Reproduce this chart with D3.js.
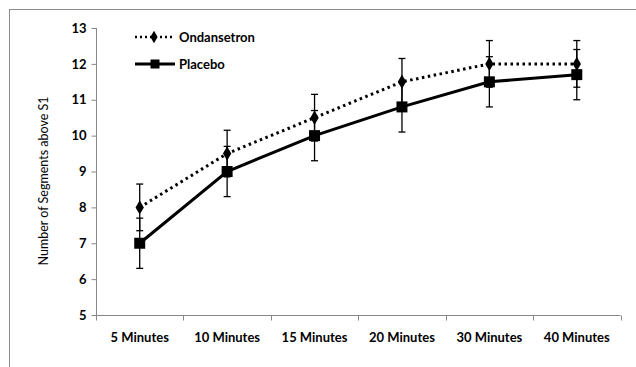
<!DOCTYPE html>
<html>
<head>
<meta charset="utf-8">
<script src="https://cdn.jsdelivr.net/npm/d3@7"></script>
<style>
  body { margin: 0; background: #fff; }
  svg text { font-family: Lato, "Open Sans", sans-serif; fill: #000; }
</style>
</head>
<body>
<div id="chart"></div>
<script>
var w = 636;
var h = 367;

// data
var categories = ["5 Minutes", "10 Minutes", "15 Minutes", "20 Minutes", "30 Minutes", "40 Minutes"];
var ondansetron = [8, 9.5, 10.5, 11.5, 12, 12];
var ondansetronErr = [0.65, 0.65, 0.65, 0.65, 0.65, 0.65];
var placebo = [7, 9, 10, 10.8, 11.5, 11.7];
var placeboErr = [0.7, 0.7, 0.7, 0.7, 0.7, 0.7];
var yTicks = [5, 6, 7, 8, 9, 10, 11, 12, 13];

var margin = { left: 96, right: 15.5, top: 28, bottom: 52 };

var svg = d3.select("#chart")
    .append("svg")
    .attr("width", w)
    .attr("height", h);

// outer chart border (runs off right/bottom)
svg.append("rect")
    .attr("x", 9.5)
    .attr("y", 9.5)
    .attr("width", 700)
    .attr("height", 400)
    .attr("fill", "none")
    .attr("stroke", "#8c8c8c")
    .attr("stroke-width", 1);

var xScale = d3.scaleBand()
    .domain(categories)
    .range([margin.left, w - margin.right]);

var yScale = d3.scaleLinear()
    .domain([5, 13])
    .range([h - margin.bottom, margin.top]);

var xCenter = function(i) { return xScale(categories[i]) + xScale.bandwidth() / 2; };

// y axis
var yAxis = svg.append("g")
    .attr("transform", "translate(" + (margin.left + 0.5) + ",0)")
    .call(d3.axisLeft(yScale).tickValues(yTicks).tickSize(5).tickPadding(5).tickFormat(d3.format("d")));

// x axis
var xAxis = svg.append("g")
    .attr("transform", "translate(0," + (yScale(5) + 0.5) + ")")
    .call(d3.axisBottom(xScale).tickSize(0).tickPadding(17));

// category boundary ticks
var bounds = categories.map(function(c) { return xScale(c); }).concat([xScale.range()[1]]);
xAxis.selectAll(".bound")
    .data(bounds)
    .enter().append("line")
    .attr("class", "bound")
    .attr("x1", function(d) { return Math.round(d) + 0.5; })
    .attr("x2", function(d) { return Math.round(d) + 0.5; })
    .attr("y1", 0)
    .attr("y2", 5);

[yAxis, xAxis].forEach(function(a) {
    a.selectAll("path.domain, line").attr("stroke", "#888").attr("stroke-width", 1);
    a.selectAll("text")
        .style("font-size", "13px")
        .style("font-weight", "bold")
        .attr("fill", "#000");
});
yAxis.select("path.domain").attr("d", "M0," + yScale(13) + "V" + yScale(5));
xAxis.select("path.domain").attr("d", "M" + margin.left + ",0H" + (w - margin.right));

// y title
svg.append("text")
    .attr("transform", "translate(48," + 181 + ") rotate(-90)")
    .attr("text-anchor", "middle")
    .style("font-size", "12.5px")
    .text("Number of Segments above S1");

var line = function(vals) {
    return d3.line()
        .x(function(d, i) { return xCenter(i); })
        .y(function(d) { return yScale(d); })(vals);
};

// error bars
var drawErr = function(vals, errs) {
    var g = svg.append("g").attr("stroke", "#000").attr("stroke-width", 1.3);
    vals.forEach(function(v, i) {
        var x = xCenter(i);
        var top = yScale(v + errs[i]);
        var bot = yScale(v - errs[i]);
        g.append("line").attr("x1", x).attr("x2", x).attr("y1", top).attr("y2", bot);
        g.append("line").attr("x1", x - 3.5).attr("x2", x + 3.5).attr("y1", top).attr("y2", top);
        g.append("line").attr("x1", x - 3.5).attr("x2", x + 3.5).attr("y1", bot).attr("y2", bot);
    });
};
drawErr(placebo, placeboErr);
drawErr(ondansetron, ondansetronErr);

// lines
svg.append("path")
    .attr("d", line(placebo))
    .attr("fill", "none")
    .attr("stroke", "#000")
    .attr("stroke-width", 3);

svg.append("path")
    .attr("d", line(ondansetron))
    .attr("fill", "none")
    .attr("stroke", "#000")
    .attr("stroke-width", 3)
    .attr("stroke-dasharray", "2.5,3.5");

// markers
var sq = d3.symbol().type(d3.symbolSquare).size(121);
var dia = d3.symbol().type(d3.symbolDiamond).size(60);

svg.selectAll(".sq")
    .data(placebo)
    .enter().append("path")
    .attr("class", "sq")
    .attr("d", sq)
    .attr("transform", function(d, i) { return "translate(" + xCenter(i) + "," + yScale(d) + ")"; });

svg.selectAll(".dia")
    .data(ondansetron)
    .enter().append("path")
    .attr("class", "dia")
    .attr("d", dia)
    .attr("transform", function(d, i) { return "translate(" + xCenter(i) + "," + yScale(d) + ")"; });

// legend
var legend = svg.append("g");
legend.append("line")
    .attr("x1", 135).attr("x2", 173).attr("y1", 37).attr("y2", 37)
    .attr("stroke", "#000").attr("stroke-width", 2.5).attr("stroke-dasharray", "2,3");
legend.append("path").attr("d", d3.symbol().type(d3.symbolDiamond).size(45)).attr("transform", "translate(154,37)");
legend.append("text").attr("x", 179).attr("y", 41.5)
    .style("font-size", "13px").style("font-weight", "bold").text("Ondansetron");

legend.append("line")
    .attr("x1", 135).attr("x2", 175).attr("y1", 64).attr("y2", 64)
    .attr("stroke", "#000").attr("stroke-width", 3);
legend.append("path").attr("d", d3.symbol().type(d3.symbolSquare).size(81)).attr("transform", "translate(155,64)");
legend.append("text").attr("x", 179).attr("y", 68.5)
    .style("font-size", "13px").style("font-weight", "bold").text("Placebo");
</script>
</body>
</html>
